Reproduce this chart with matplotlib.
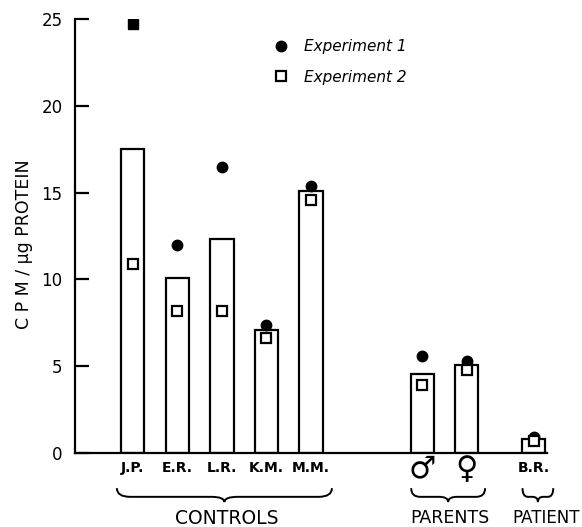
import numpy as np
import matplotlib
matplotlib.use("Agg")
import matplotlib.pyplot as plt
from matplotlib.path import Path
from matplotlib.patches import PathPatch
from matplotlib.transforms import blended_transform_factory

# ---- data ----
categories = ["J.P.", "E.R.", "L.R.", "K.M.", "M.M.", "\u2642", "\u2640", "B.R."]
positions = [0, 1, 2, 3, 4, 6.5, 7.5, 9]
bar_values = [17.5, 10.1, 12.3, 7.1, 15.1, 4.55, 5.05, 0.8]
exp1 = [24.7, 12.0, 16.5, 7.35, 15.4, 5.6, 5.3, 0.95]
exp2 = [10.9, 8.2, 8.2, 6.6, 14.6, 3.9, 4.8, 0.7]
groups = ["CONTROLS", "PARENTS", "PATIENT"]
group_members = [[0, 1, 2, 3, 4], [5, 6], [7]]
yticks = [0, 5, 10, 15, 20, 25]

narrow = ["DejaVu Sans Condensed", "Liberation Sans Narrow", "DejaVu Sans"]

fig = plt.figure(figsize=(5.82, 5.27), dpi=100)
ax = fig.add_axes([75 / 582, 1 - 453 / 527, (547 - 75) / 582, (453 - 19) / 527])

ax.bar(positions, bar_values, width=0.52, facecolor="white", edgecolor="black",
       linewidth=1.6, zorder=2)

exp1_markers = ["s"] + ["o"] * (len(exp1) - 1)
for x, v, m in zip(positions, exp1, exp1_markers):
    ax.plot([x], [v], marker=m, color="black", markersize=7.5, linestyle="none", zorder=4)
ax.plot(positions, exp2, marker="s", markerfacecolor="white", markeredgecolor="black",
        markeredgewidth=1.6, markersize=6.5, linestyle="none", zorder=5)

ax.set_xlim(-1.3, 9.3)
ax.set_ylim(0, 25)
for s in ["top", "right"]:
    ax.spines[s].set_visible(False)
ax.spines["left"].set_linewidth(1.6)
ax.spines["bottom"].set_linewidth(1.6)

ax.set_yticks(yticks)
ax.tick_params(axis="y", direction="in", length=10, width=1.6, labelsize=12, pad=9)
ax.set_xticks(positions)
ax.set_xticklabels(categories)
ax.tick_params(axis="x", length=0, pad=6, labelsize=10)
for lab, txt in zip(ax.get_xticklabels(), categories):
    if txt in ("\u2642", "\u2640"):
        lab.set_fontsize(22)
        lab.set_y(0.015)
    else:
        lab.set_family(narrow)
        lab.set_fontweight("bold")

ax.set_ylabel("C P M / \u03bcg PROTEIN", fontsize=12.5)
ax.yaxis.set_label_coords(-0.089, 0.48)

# legend
ax.plot([], [], "o", color="black", markersize=7.5, label="Experiment 1")
ax.plot([], [], "s", markerfacecolor="white", markeredgecolor="black",
        markeredgewidth=1.6, markersize=6.5, label="Experiment 2")
leg = ax.legend(loc="upper left", bbox_to_anchor=(0.392, 0.985), frameon=False,
                handlelength=1.0, handletextpad=1.0, labelspacing=1.0,
                prop={"style": "italic", "size": 11})

# braces and group labels
trans = blended_transform_factory(ax.transData, ax.transAxes)
pads = [(0.36, 0.47), (0.25, 0.41), (0.25, 0.44)]
r_list = [0.3, 0.2, 0.12]
label_sizes = [13.5, 12.5, 12]
top, mid, tip = -0.081, -0.101, -0.113
for g, members, (pl, pr), r, fs in zip(groups, group_members, pads, r_list, label_sizes):
    x0 = positions[members[0]] - pl
    x1 = positions[members[-1]] + pr
    xm = (x0 + x1) / 2
    verts = [(x0, top), (x0, mid), (x0 + r, mid), (xm - r, mid), (xm, mid), (xm, tip),
             (xm, mid), (xm + r, mid), (x1 - r, mid), (x1, mid), (x1, top)]
    codes = [Path.MOVETO, Path.CURVE3, Path.CURVE3, Path.LINETO, Path.CURVE3, Path.CURVE3,
             Path.CURVE3, Path.CURVE3, Path.LINETO, Path.CURVE3, Path.CURVE3]
    ax.add_patch(PathPatch(Path(verts, codes), fill=False, lw=1.4, edgecolor="black",
                           transform=trans, clip_on=False))
    tx = xm + (0.18 if g == "PATIENT" else 0.05)
    ax.text(tx, -0.150, g, transform=trans, ha="center", va="center", fontsize=fs,
            family=narrow)

fig.savefig("out.png", dpi=100)
